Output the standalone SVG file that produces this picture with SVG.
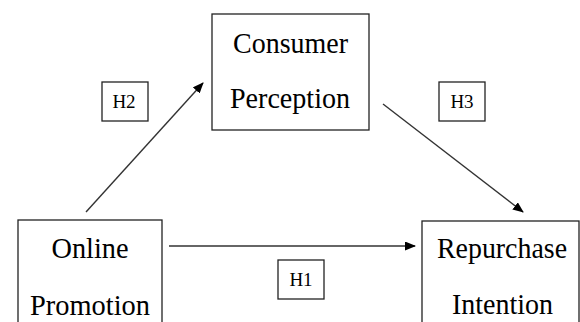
<svg xmlns="http://www.w3.org/2000/svg" width="580" height="322" viewBox="0 0 580 322">
<style>
.box{fill:#fff;stroke:#222;stroke-width:1.3}
.t{font-family:'Liberation Serif','Times New Roman',serif;font-size:30px;fill:#000;text-anchor:middle}
.h{font-family:'Liberation Serif','Times New Roman',serif;font-size:19px;fill:#000;text-anchor:middle}
.c{stroke:#333;stroke-width:1.4;fill:none;marker-end:url(#ah)}
</style>
<defs>
<marker id="ah" markerWidth="11" markerHeight="9" refX="10" refY="4.5" orient="auto" markerUnits="userSpaceOnUse">
<path d="M0,0 L11,4.5 L0,9 Z" fill="#000"/>
</marker>
</defs>
<rect width="580" height="322" fill="#fff"/>
<g id="connectors">
<line class="c" x1="86" y1="212" x2="203" y2="83"/>
<line class="c" x1="383" y1="104" x2="523" y2="212"/>
<line class="c" x1="169" y1="246" x2="415" y2="246"/>
</g>
<g id="consumer-perception">
<rect class="box" x="212" y="14" width="157" height="116"/>
<text class="t" x="290.5" y="53" textLength="115" lengthAdjust="spacingAndGlyphs">Consumer</text>
<text class="t" x="290" y="108" textLength="120" lengthAdjust="spacingAndGlyphs">Perception</text>
</g>
<g id="online-promotion">
<rect class="box" x="18" y="220" width="144" height="110"/>
<text class="t" x="90" y="258" textLength="77" lengthAdjust="spacingAndGlyphs">Online</text>
<text class="t" x="90" y="315" textLength="120" lengthAdjust="spacingAndGlyphs">Promotion</text>
</g>
<g id="repurchase-intention">
<rect class="box" x="422" y="221" width="157" height="110"/>
<text class="t" x="502" y="258" textLength="130" lengthAdjust="spacingAndGlyphs">Repurchase</text>
<text class="t" x="502.5" y="314" textLength="101" lengthAdjust="spacingAndGlyphs">Intention</text>
</g>
<g id="h2">
<rect class="box" x="102" y="82" width="46" height="39"/>
<text class="h" x="124" y="108">H2</text>
</g>
<g id="h3">
<rect class="box" x="439" y="82" width="46" height="39"/>
<text class="h" x="462" y="108">H3</text>
</g>
<g id="h1">
<rect class="box" x="278" y="260" width="46" height="39"/>
<text class="h" x="301" y="286">H1</text>
</g>
</svg>
